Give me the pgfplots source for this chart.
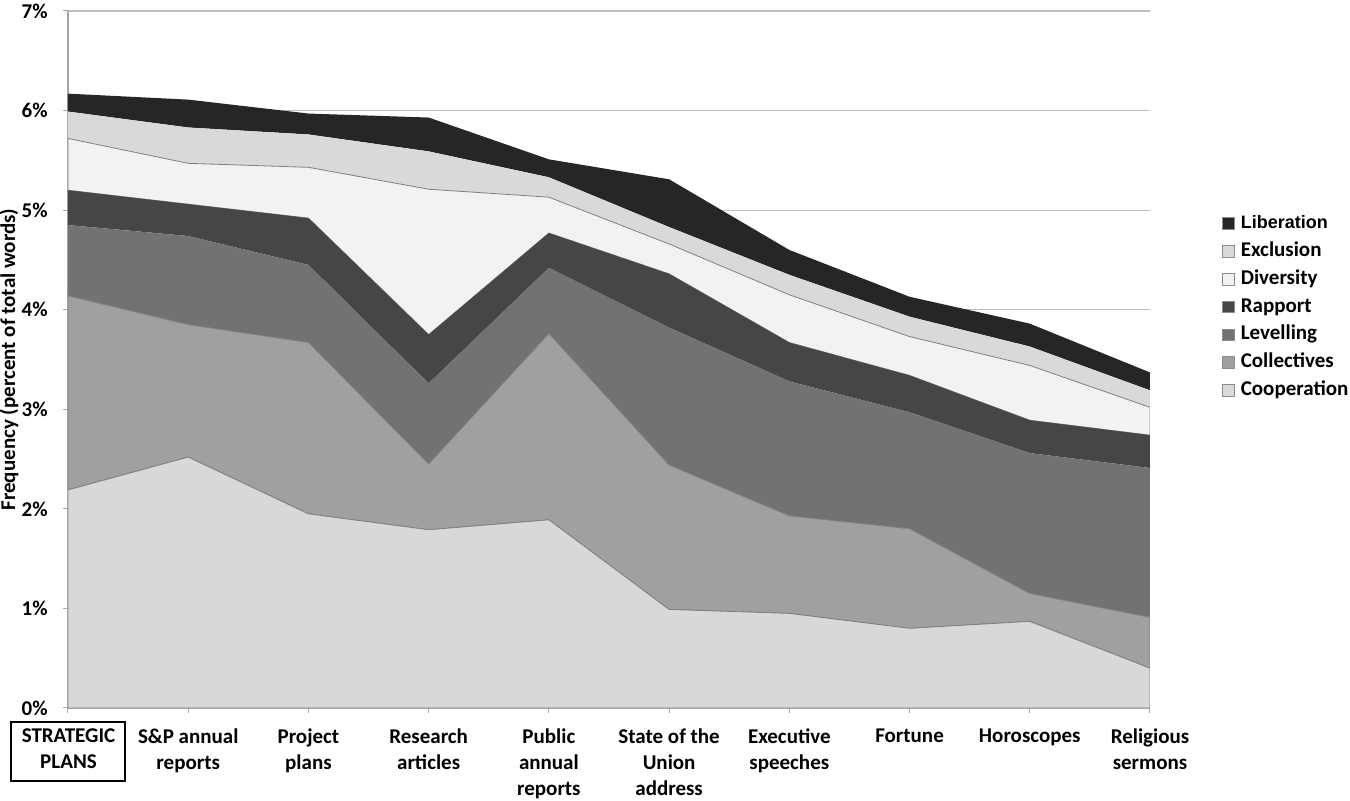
\documentclass[border=0pt]{standalone}
\usepackage{pgfplots}
\pgfplotsset{compat=1.18}
\usepackage{fontspec}
\setmainfont{Carlito}
\newfontfamily\arialfont{Liberation Sans}
\definecolor{clib}{HTML}{262626}
\definecolor{cexc}{HTML}{D9D9D9}
\definecolor{cdiv}{HTML}{F2F2F2}
\definecolor{crap}{HTML}{464646}
\definecolor{clev}{HTML}{727272}
\definecolor{ccol}{HTML}{A0A0A0}
\definecolor{ccoop}{HTML}{D8D8D8}
\definecolor{edgegray}{HTML}{7F7F7F}
\definecolor{gridgray}{HTML}{BFBFBF}
\definecolor{axisgray}{HTML}{A6A6A6}
\begin{document}
\begin{tikzpicture}
\path[use as bounding box] (-34pt,-46.5pt) rectangle (641pt,354pt);
\begin{axis}[
  at={(0pt,0pt)}, anchor=south west,
  scale only axis, width=541pt, height=348.5pt,
  xmin=0, xmax=9, ymin=0, ymax=7,
  axis x line=bottom, axis y line=left,
  axis line style={-, draw=axisgray, line width=0.6pt},
  xtick={0,...,9}, ytick={0,...,7},
  yticklabels={0\%,1\%,2\%,3\%,4\%,5\%,6\%,7\%},
  xticklabels={
    {\raisebox{0pt}[\dimexpr\height-3.94pt\relax]{\setlength{\fboxsep}{0pt}\setlength{\fboxrule}{1pt}\fbox{\begin{tabular}{@{\hspace{5pt}}c@{\hspace{4.5pt}}}\rule{0pt}{9.7pt}STRATEGIC\\PLANS\rule[-6pt]{0pt}{6pt}\end{tabular}}}},
    {S\&P annual\\reports},
    {Project\\plans},
    {Research\\articles},
    {Public\\annual\\reports},
    {State of the\\Union\\address},
    {Executive\\speeches},
    {Fortune},
    {Horoscopes},
    {Religious\\sermons}},
  tick align=outside, major tick length=2.5pt,
  tick style={draw=axisgray, line width=0.5pt},
  xticklabel style={font=\bfseries\fontsize{10.5}{12.85}\selectfont, align=center, anchor=north, inner sep=0pt, yshift=-7.85pt},
  yticklabel style={font=\bfseries\fontsize{10.5}{12}\selectfont, anchor=east, inner sep=0pt, xshift=-7.5pt},
  ymajorgrids, major grid style={draw=gridgray, line width=0.6pt},
  ylabel={Frequency (percent of total words)},
  every axis y label/.style={at={(axis description cs:-0.0545,0.5)}, rotate=90, anchor=center, font=\bfseries\fontsize{10.5}{12}\selectfont},
  stack plots=y,
  reverse legend,
  legend style={at={(axis description cs:1.061,0.717)}, anchor=north west, draw=none, fill=none,
    font=\bfseries\fontsize{10.5}{12}\selectfont, row sep=2.9pt,
    nodes={inner sep=1pt, text height=7pt, text depth=2pt},
    /tikz/every odd column/.append style={column sep=2pt}},
  legend cell align=left,
  legend image code/.code={\draw[#1, draw=black!45, line width=0.4pt] (0pt,-2.9pt) rectangle (5.8pt,2.9pt);},
]
\addplot[fill=ccoop, draw=edgegray, line width=0.4pt] coordinates {(0,2.19)(1,2.52)(2,1.95)(3,1.79)(4,1.89)(5,0.99)(6,0.95)(7,0.80)(8,0.87)(9,0.40)} \closedcycle;
\addplot[fill=ccol, draw=edgegray, line width=0.4pt] coordinates {(0,1.95)(1,1.33)(2,1.72)(3,0.66)(4,1.87)(5,1.45)(6,0.98)(7,1.00)(8,0.28)(9,0.51)} \closedcycle;
\addplot[fill=clev, draw=none] coordinates {(0,0.71)(1,0.89)(2,0.78)(3,0.81)(4,0.66)(5,1.38)(6,1.35)(7,1.17)(8,1.41)(9,1.50)} \closedcycle;
\addplot[fill=crap, draw=none] coordinates {(0,0.35)(1,0.32)(2,0.47)(3,0.49)(4,0.35)(5,0.54)(6,0.39)(7,0.37)(8,0.33)(9,0.33)} \closedcycle;
\addplot[fill=cdiv, draw=edgegray, line width=0.4pt] coordinates {(0,0.52)(1,0.41)(2,0.51)(3,1.46)(4,0.36)(5,0.30)(6,0.48)(7,0.39)(8,0.55)(9,0.28)} \closedcycle;
\addplot[fill=cexc, draw=none] coordinates {(0,0.27)(1,0.36)(2,0.33)(3,0.38)(4,0.20)(5,0.17)(6,0.20)(7,0.20)(8,0.19)(9,0.17)} \closedcycle;
\addplot[fill=clib, draw=none] coordinates {(0,0.18)(1,0.28)(2,0.21)(3,0.34)(4,0.18)(5,0.48)(6,0.25)(7,0.20)(8,0.23)(9,0.18)} \closedcycle;
\legend{Cooperation,Collectives,Levelling,Rapport,Diversity,Exclusion,{\arialfont\bfseries\fontsize{9}{12}\selectfont Liberation}}
\end{axis}
\end{tikzpicture}
\end{document}
